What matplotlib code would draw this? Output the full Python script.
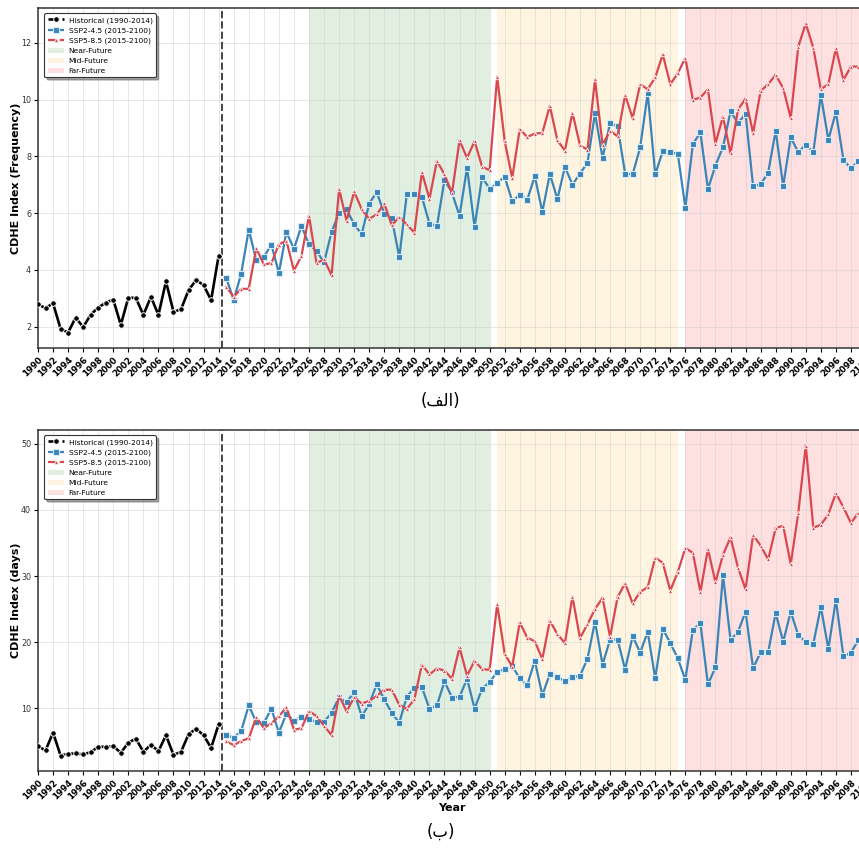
import numpy as np
import matplotlib
matplotlib.use("Agg")
import matplotlib.pyplot as plt
from matplotlib.patches import Patch
from matplotlib.lines import Line2D

# ---------------- data ----------------
hist_years = list(range(1990, 2015))
ssp_years = list(range(2015, 2101))

hist_freq = [2.78, 2.65, 2.82, 1.92, 1.79, 2.32, 1.98, 2.42, 2.67, 2.84,
             2.95, 2.06, 3.02, 3.01, 2.41, 3.05, 2.41, 3.59, 2.52, 2.61,
             3.28, 3.64, 3.46, 2.93, 4.50]

ssp245_freq = [3.72, 2.93, 3.87, 5.42, 4.33, 4.45, 4.89, 3.89, 5.33, 4.74,   # 2015-2024
               5.54, 4.90, 4.67, 4.26, 5.33, 6.01, 6.13, 5.60, 5.26, 6.33,   # 2025-2034
               6.74, 5.98, 5.81, 4.44, 6.68, 6.68, 6.57, 5.63, 5.54, 7.17,   # 2035-2044
               6.72, 5.90, 7.60, 5.51, 7.27, 6.85, 7.05, 7.28, 6.41, 6.65,   # 2045-2054
               6.47, 7.30, 6.04, 7.38, 6.49, 7.63, 7.00, 7.39, 7.77, 9.52,   # 2055-2064
               7.94, 9.17, 9.05, 7.39, 7.36, 8.32, 10.22, 7.36, 8.18, 8.14,  # 2065-2074
               8.09, 6.19, 8.43, 8.84, 6.85, 7.67, 8.33, 9.58, 9.17, 9.50,   # 2075-2084
               6.95, 7.01, 7.42, 8.90, 6.95, 8.67, 8.14, 8.41, 8.14, 10.16,  # 2085-2094
               8.58, 9.56, 7.88, 7.57, 7.85, 7.90]                           # 2095-2100

ssp585_freq = [3.40, 3.05, 3.33, 3.33, 4.76, 4.19, 4.23, 4.89, 5.03, 3.97,   # 2015-2024
               4.49, 5.91, 4.23, 4.37, 3.81, 6.85, 5.72, 6.76, 6.13, 5.80,   # 2025-2034
               5.95, 6.34, 5.57, 5.86, 5.60, 5.31, 7.44, 6.50, 7.84, 7.36,   # 2035-2044
               6.71, 8.56, 7.94, 8.53, 7.63, 7.51, 10.81, 8.53, 7.24, 8.96,  # 2045-2054
               8.68, 8.80, 8.82, 9.78, 8.56, 8.20, 9.54, 8.39, 8.23, 10.71,  # 2055-2064
               8.41, 8.90, 8.70, 10.16, 9.34, 10.54, 10.36, 10.78, 11.59, 10.54,  # 2065-2074
               10.92, 11.47, 9.99, 10.07, 10.36, 8.45, 9.40, 8.10, 9.65, 10.03,   # 2075-2084
               8.82, 10.30, 10.54, 10.87, 10.40, 9.35, 11.86, 12.68, 11.82, 10.36,  # 2085-2094
               10.54, 11.80, 10.69, 11.16, 11.16, 11.10]                     # 2095-2100

hist_days = [4.26, 3.60, 6.30, 2.84, 3.10, 3.15, 3.00, 3.35, 4.16, 4.16,
             4.26, 3.25, 4.77, 5.38, 3.40, 4.47, 3.50, 5.89, 2.94, 3.40,
             6.04, 6.90, 5.89, 4.00, 7.56]

ssp245_days = [5.95, 5.52, 6.55, 10.43, 7.86, 7.72, 9.95, 6.30, 9.15, 8.10,     # 2015-2024
               8.73, 8.30, 7.93, 7.93, 9.30, 11.65, 10.88, 12.43, 8.75, 10.63,  # 2025-2034
               13.60, 11.35, 9.27, 7.80, 11.75, 13.10, 13.20, 9.90, 10.43, 14.05,  # 2035-2044
               11.60, 11.70, 14.48, 9.93, 12.95, 13.92, 15.50, 15.95, 16.38, 14.50,  # 2045-2054
               13.50, 17.20, 11.95, 15.20, 14.70, 14.12, 14.76, 14.85, 17.50, 23.10,  # 2055-2064
               16.60, 20.38, 20.38, 15.85, 20.90, 18.40, 21.55, 14.50, 22.00, 19.87,  # 2065-2074
               17.52, 14.30, 21.85, 22.85, 13.60, 16.18, 30.15, 20.30, 21.55, 24.62,  # 2075-2084
               16.05, 18.46, 18.46, 24.40, 20.05, 24.62, 21.02, 20.05, 19.75, 25.35,  # 2085-2094
               18.96, 26.40, 17.85, 18.40, 20.35, 20.80]                           # 2095-2100

ssp585_days = [5.00, 4.40, 5.03, 5.43, 8.65, 7.00, 7.70, 8.75, 10.15, 6.75,    # 2015-2024
               6.95, 9.55, 8.80, 7.35, 5.90, 11.95, 9.50, 11.65, 10.70, 11.10,  # 2025-2034
               11.85, 12.78, 12.80, 10.50, 9.88, 11.35, 16.60, 15.10, 16.00, 15.70,  # 2035-2044
               14.45, 19.20, 14.90, 17.17, 15.90, 15.80, 25.72, 18.20, 16.30, 23.00,  # 2045-2054
               20.65, 20.13, 17.45, 23.24, 21.20, 19.85, 26.90, 20.60, 22.70, 25.00,  # 2055-2064
               26.70, 20.78, 26.80, 28.90, 25.85, 27.60, 28.30, 32.78, 32.00, 27.80,  # 2065-2074
               30.60, 34.25, 33.50, 27.60, 34.10, 29.05, 33.20, 35.85, 31.25, 28.00,  # 2075-2084
               36.20, 34.60, 32.50, 37.25, 37.60, 31.80, 39.50, 49.75, 37.30, 37.75,  # 2085-2094
               39.35, 42.55, 40.40, 38.00, 39.60, 40.50]                           # 2095-2100

periods = [("Near-Future", 2026, 2050), ("Mid-Future", 2051, 2075), ("Far-Future", 2076, 2100)]
period_colors = ["green", "orange", "red"]
xtick_years = list(range(1990, 2101, 2))

labels = ["Historical (1990-2014)", "SSP2-4.5 (2015-2100)", "SSP5-8.5 (2015-2100)"]
c_hist, c_245, c_585 = "black", "#3a84b8", "#d9474f"

# ---------------- figure ----------------
W, H = 859, 851
fig = plt.figure(figsize=(W / 100, H / 100), dpi=100)
left = 38 / W
width = (866 - 38) / W
ax1 = fig.add_axes([left, 1 - 348 / H, width, 340 / H])
ax2 = fig.add_axes([left, 1 - 771 / H, width, 341 / H])


def draw(ax, hist, s245, s585, ylabel):
    for (name, a, b), col in zip(periods, period_colors):
        ax.axvspan(a, b, color=col, alpha=0.12, lw=0, zorder=0)
    ax.axvline(2014.5, color="#444444", ls="--", lw=1.4, zorder=1)
    ax.plot(hist_years, hist, color=c_hist, lw=1.9, marker="o", ms=4,
            mec="white", mew=0.7, zorder=4)
    ax.plot(ssp_years, s245, color=c_245, lw=1.6, marker="s", ms=3.8,
            mec="#d6ecf8", mew=0.8, zorder=3)
    ax.plot(ssp_years, s585, color=c_585, lw=1.6, marker="^", ms=3.2,
            mec="white", mew=0.6, zorder=3)
    ax.set_xlim(1990, 2100)
    ax.set_xticks(xtick_years)
    ax.set_xticklabels([str(y) for y in xtick_years], rotation=45, ha="right",
                       rotation_mode="anchor", fontsize=6.2, fontweight="bold")
    ax.tick_params(axis="x", length=3, pad=2)
    ax.tick_params(axis="y", labelsize=5.8, labelcolor="#333333", length=3, pad=2)
    ax.grid(True, color="#cccccc", alpha=0.55, lw=0.6)
    ax.set_axisbelow(True)
    for sp in ax.spines.values():
        sp.set_color("#333333")
        sp.set_linewidth(1.1)
    ax.set_ylabel(ylabel, fontsize=8, fontweight="bold")
    ax.yaxis.set_label_coords(-0.021, 0.5)

    handles = [
        Line2D([], [], color=c_hist, lw=1.9, marker="o", ms=4, mec="white", mew=0.7, ls="--"),
        Line2D([], [], color=c_245, lw=1.6, marker="s", ms=3.8, mec="#d6ecf8", mew=0.8, ls="--"),
        Line2D([], [], color=c_585, lw=1.6, marker="^", ms=3.2, mec="white", mew=0.6, ls="--"),
    ] + [Patch(facecolor=col, alpha=0.12) for col in period_colors]
    leg = ax.legend(handles, labels + [p[0] for p in periods], loc="upper left",
                    fontsize=5.4, frameon=True, shadow=True, fancybox=True,
                    framealpha=1, edgecolor="#333333", borderpad=0.45,
                    labelspacing=0.48, handlelength=2.2, handletextpad=0.6,
                    bbox_to_anchor=(0.003, 0.995))
    leg.get_frame().set_linewidth(0.8)


draw(ax1, hist_freq, ssp245_freq, ssp585_freq, "CDHE Index (Frequency)")
draw(ax2, hist_days, ssp245_days, ssp585_days, "CDHE Index (days)")
ax2.set_xlabel("Year", fontsize=8, fontweight="bold", labelpad=1)

# captions (Persian): visual order with presentation forms
fig.text(440 / W, 1 - 401 / H, "(\ufed2\ufedf\ufe8d)", ha="center", va="center",
         fontsize=12, family=["DejaVu Sans"])
fig.text(441 / W, 1 - 832 / H, "(\ufe8f)", ha="center", va="center",
         fontsize=12, family=["DejaVu Sans"])

fig.savefig("out.png", dpi=100)
